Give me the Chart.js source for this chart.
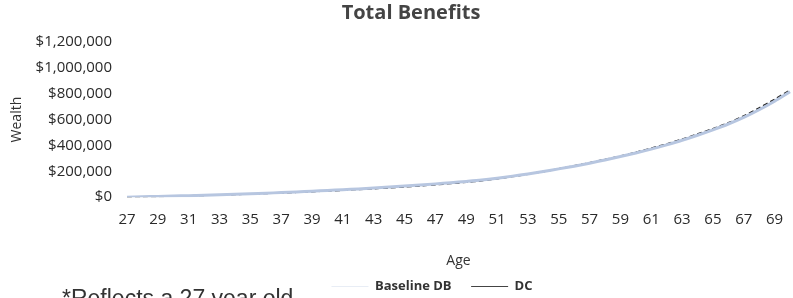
<!DOCTYPE html>
<html>
<head>
<meta charset="utf-8">
<script src="https://cdn.jsdelivr.net/npm/chart.js@4.4.1/dist/chart.umd.min.js"></script>
<style>
  html, body { margin: 0; padding: 0; background: #fff; overflow: hidden; }
  #wrap { position: relative; width: 793px; height: 298px; overflow: hidden; }
  #note { position: absolute; left: 62px; top: 285px; font-family: "Liberation Sans", Arial, sans-serif; font-size: 23px; color: #333; white-space: nowrap; line-height: normal; }
</style>
</head>
<body>
<div id="wrap">
  <canvas id="c" width="793" height="298"></canvas>
  <div id="note">*Reflects a 27 year old</div>
</div>
<script>
const ages = [27,28,29,30,31,32,33,34,35,36,37,38,39,40,41,42,43,44,45,46,47,48,49,50,51,52,53,54,55,56,57,58,59,60,61,62,63,64,65,66,67,68,69,70];
const baselineDB = [0,3000,6000,9000,12000,15000,19000,23000,27000,31000,36000,41000,46000,52000,58000,64000,71000,78000,86000,94000,103000,112000,122000,133000,147000,163000,180000,199000,219000,240000,263000,288000,314000,342000,372000,405000,440000,479000,521000,566000,617000,676000,742000,815000];
const dc = [0,2000,5000,8000,11000,14000,17000,21000,25000,29000,33000,38000,43000,48000,54000,60000,66000,73000,80000,88000,97000,106000,116000,127000,143000,160000,178000,198000,220000,242000,266000,292000,318000,347000,379000,412000,448000,488000,530000,575000,628000,690000,757000,828000];
const yTicks = [0,200000,400000,600000,800000,1000000,1200000];

const FONT = '"Open Sans", sans-serif';
const shiftPlugin = {
  id: 'shift',
  afterLayout(chart) {
    const lg = chart.legend; lg.left += 35; lg.right += 35; lg.top += 5; lg.bottom += 5;
    const tt = chart.titleBlock; tt.left += 14; tt.right += 14;
  }
};

new Chart(document.getElementById('c'), {
  type: 'line',
  data: {
    labels: ages,
    datasets: [
      { label: 'Baseline DB', data: baselineDB, borderColor: '#b7c6e0', backgroundColor: '#b7c6e0', borderWidth: 3, pointRadius: 0, tension: 0.3, pointStyle: 'line' },
      { label: 'DC', data: dc, borderColor: '#262626', backgroundColor: '#262626', borderWidth: 1.6, borderDash: [5, 3], pointRadius: 0, tension: 0.3, pointStyle: 'line' }
    ]
  },
  options: {
    responsive: false,
    animation: false,
    layout: { padding: { left: 4, right: 3, top: 0, bottom: 0 } },
    plugins: {
      title: { display: true, text: 'Total Benefits', color: '#444', font: { family: FONT, size: 20, weight: 'bold' }, padding: { top: 1, bottom: 17 } },
      legend: {
        position: 'bottom',
        labels: {
          color: '#333', font: { family: FONT, size: 13, weight: 'bold' }, usePointStyle: true, pointStyleWidth: 37, padding: 6,
          generateLabels: function(chart) {
            const items = Chart.defaults.plugins.legend.labels.generateLabels(chart);
            items.forEach((it, i) => {
              it.lineDash = [];
              if (i === 0) { it.text = 'Baseline DB    '; it.strokeStyle = '#e8edf5'; it.lineWidth = 1; }
              else { it.strokeStyle = '#444'; it.lineWidth = 1.2; }
            });
            return items;
          }
        }
      },
      tooltip: { enabled: false }
    },
    scales: {
      x: {
        afterFit: (s) => { s.paddingRight = 0; },
        grid: { display: false, drawTicks: false },
        border: { display: false },
        ticks: { color: '#2a2a2a', font: { family: FONT, size: 15 }, padding: 14, autoSkip: false, maxRotation: 0,
          callback: function(v, i) { const a = ages[i]; return (a % 2 === 1) ? String(a) : ''; } },
        title: { display: true, text: 'Age', color: '#333', font: { family: FONT, size: 14 }, padding: { top: 9, bottom: 0 } }
      },
      y: {
        min: 0, max: 1200000,
        afterBuildTicks: (s) => { s.ticks = yTicks.map(v => ({ value: v })); },
        afterFit: (s) => { s.width = 123; },
        grid: { display: false, drawTicks: false },
        border: { display: false },
        ticks: { color: '#2a2a2a', font: { family: FONT, size: 15 }, padding: 15,
          callback: (v) => '$' + Number(v).toLocaleString('en-US') },
        title: { display: true, text: 'Wealth', color: '#333', font: { family: FONT, size: 14 }, padding: { top: 5, bottom: 8 } }
      }
    }
  },
  plugins: [shiftPlugin]
});
</script>
</body>
</html>
